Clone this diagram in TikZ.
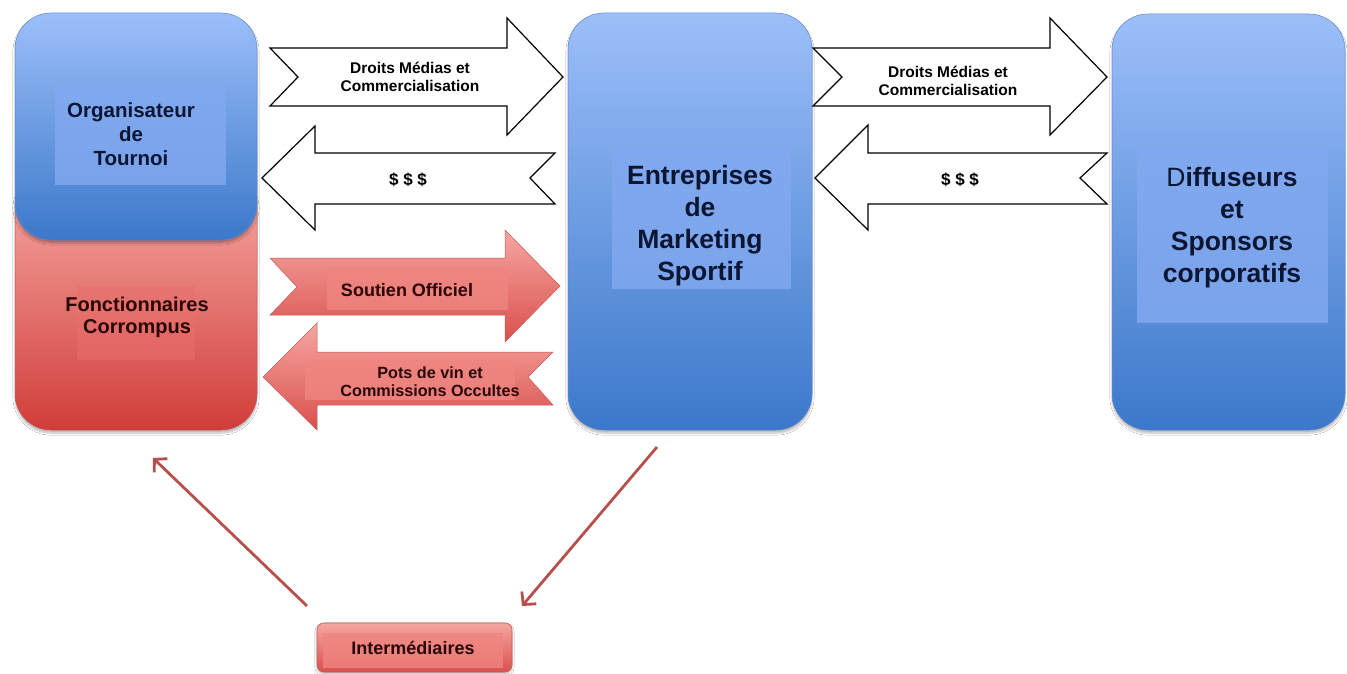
\documentclass[tikz,border=0pt]{standalone}
\usepackage{fontspec}
\setmainfont{Liberation Sans}
\usetikzlibrary{arrows.meta,shadows.blur}
\definecolor{btop}{HTML}{9CBFF9}
\definecolor{bmid}{HTML}{80A7EF}
\definecolor{bbot}{HTML}{3C78CA}
\definecolor{bedge}{HTML}{5A88CF}
\definecolor{binner}{HTML}{82A9F0}
\definecolor{rtop}{HTML}{F7ACA8}
\definecolor{rmid}{HTML}{EE8783}
\definecolor{rbot}{HTML}{D13D39}
\definecolor{redge}{HTML}{C55A56}
\definecolor{rinner}{HTML}{E96F6C}
\definecolor{atop}{HTML}{F6A6A2}
\definecolor{abot}{HTML}{D9504C}
\definecolor{ainner}{HTML}{EF8581}
\definecolor{conncol}{HTML}{B5504C}
\definecolor{navy}{HTML}{0C1633}
\definecolor{darkred}{HTML}{2A0505}
\tikzset{
  bluebox/.style={draw=bedge, line width=0.5pt, rounded corners=36pt,
    top color=btop, middle color=bmid, bottom color=bbot,
    blur shadow={shadow xshift=0pt, shadow yshift=-3pt, shadow blur steps=6, shadow opacity=28}},
  redbox/.style={draw=redge, line width=0.5pt, rounded corners=36pt,
    top color=rtop, middle color=rmid, bottom color=rbot,
    blur shadow={shadow xshift=0pt, shadow yshift=-3pt, shadow blur steps=6, shadow opacity=28}},
  interbox/.style={draw=redge, line width=0.6pt, rounded corners=7pt,
    top color=atop, bottom color=abot,
    blur shadow={shadow xshift=0pt, shadow yshift=-2pt, shadow blur steps=4, shadow opacity=28}},
  innerblue/.style={fill=binner, fill opacity=0.8, inner sep=0pt},
  innerred/.style={fill=rinner, fill opacity=0.55, inner sep=0pt},
  innerarrow/.style={fill=ainner, fill opacity=0.8, inner sep=0pt},
  whitearrow/.style={draw=black, line width=1.2pt, fill=white, line join=miter},
  redarrow/.style={draw=redge, line width=0.5pt, top color=atop, bottom color=abot},
  bigtxt/.style={align=center, inner sep=0pt, text=navy, font=\fontsize{26.5}{32}\selectfont\bfseries},
  midtxt/.style={align=center, inner sep=0pt, font=\fontsize{20.5}{24}\selectfont\bfseries},
  arrtxt/.style={align=center, inner sep=0pt, text=black, font=\fontsize{15.5}{18}\selectfont\bfseries},
  dollartxt/.style={inner sep=0pt, text=black, font=\fontsize{17}{20}\selectfont\bfseries},
  conn/.style={draw=conncol, line width=2.8pt, -{Straight Barb[length=9pt,width=19pt]}}
}
\begin{document}
\begin{tikzpicture}[x=1pt,y=-1pt]
\useasboundingbox[fill=white] (0,0) rectangle (1347,674);

% left column
\node[redbox, minimum width=242pt, minimum height=260pt] (fonc) at (136,300) {};
\node[bluebox, minimum width=242pt, minimum height=227pt] (org) at (136,126.5) {};
\node[innerblue, minimum width=171pt, minimum height=99pt] (orgIn) at (140.5,135.5) {};
\node[midtxt, text=navy] (orgT) at (131,134) {Organisateur\\de\\Tournoi};
\node[innerred, minimum width=118pt, minimum height=74pt] (foncIn) at (136,323) {};
\node[midtxt, text=darkred, font=\fontsize{20}{22}\selectfont\bfseries] (foncT) at (137,317) {Fonctionnaires\\Corrompus};

% centre column
\node[bluebox, minimum width=244pt, minimum height=417pt] (ent) at (690,221.5) {};
\node[innerblue, minimum width=179pt, minimum height=141pt] (entIn) at (701.5,218.5) {};
\node[bigtxt] (entT) at (700,226) {Entreprises\\de\\Marketing\\Sportif};

% right column
\node[bluebox, minimum width=233pt, minimum height=416pt] (diff) at (1228.5,222) {};
\node[innerblue, minimum width=191pt, minimum height=175pt] (diffIn) at (1232.5,235.5) {};
\node[bigtxt] (diffT) at (1232,228) {{\mdseries D}iffuseurs\\et\\Sponsors\\corporatifs};

% white block arrows, left
\draw[whitearrow] (270,48) -- (507,48) -- (507,18) -- (563,77) -- (507,135) -- (507,106) -- (270,106) -- (298,77) -- cycle;
\node[arrtxt] (a1T) at (410,77) {Droits Médias et\\Commercialisation};
\draw[whitearrow] (262,178) -- (315,126) -- (315,153) -- (555,153) -- (530,178) -- (555,204) -- (315,204) -- (315,230) -- cycle;
\node[dollartxt] (a2T) at (408,180) {\$ \$ \$};

% red block arrows
\draw[redarrow] (270,258) -- (505,258) -- (505,230) -- (560,286) -- (505,342) -- (505,315) -- (270,315) -- (297,287) -- cycle;
\node[innerarrow, minimum width=181pt, minimum height=43pt] (a3In) at (417.5,288.5) {};
\node[arrtxt, text=darkred, font=\fontsize{18}{20}\selectfont\bfseries] (a3T) at (407,290) {Soutien Officiel};
\draw[redarrow] (263,377) -- (317,323) -- (317,352) -- (553,352) -- (528,377) -- (553,405) -- (317,405) -- (317,430) -- cycle;
\node[innerarrow, minimum width=210pt, minimum height=40pt] (a4In) at (410,380) {};
\node[arrtxt, text=darkred, font=\fontsize{16.2}{18}\selectfont\bfseries] (a4T) at (430,382) {Pots de vin et\\Commissions Occultes};

% white block arrows, right
\draw[whitearrow] (813,48) -- (1050,48) -- (1050,18) -- (1107,77) -- (1050,135) -- (1050,106) -- (813,106) -- (842,77) -- cycle;
\node[arrtxt] (a5T) at (948,81) {Droits Médias et\\Commercialisation};
\draw[whitearrow] (815,178) -- (868,125) -- (868,153) -- (1107,153) -- (1080,178) -- (1107,204) -- (868,204) -- (868,230) -- cycle;
\node[dollartxt] (a6T) at (960,180) {\$ \$ \$};

% intermediaries
\node[interbox, minimum width=195pt, minimum height=49pt] (inter) at (414.5,647.5) {};
\node[innerarrow, minimum width=180pt, minimum height=35pt] (interIn) at (413,650.5) {};
\node[arrtxt, text=darkred, font=\fontsize{18}{20}\selectfont\bfseries] (interT) at (413,648) {Intermédiaires};

\coordinate (l1s) at (307,606);
\coordinate (l1e) at (153,458);
\coordinate (l2s) at (657,447);
\coordinate (l2e) at (522,606);
\draw[conn] (l1s) -- (l1e);
\draw[conn] (l2s) -- (l2e);
\end{tikzpicture}
\end{document}
